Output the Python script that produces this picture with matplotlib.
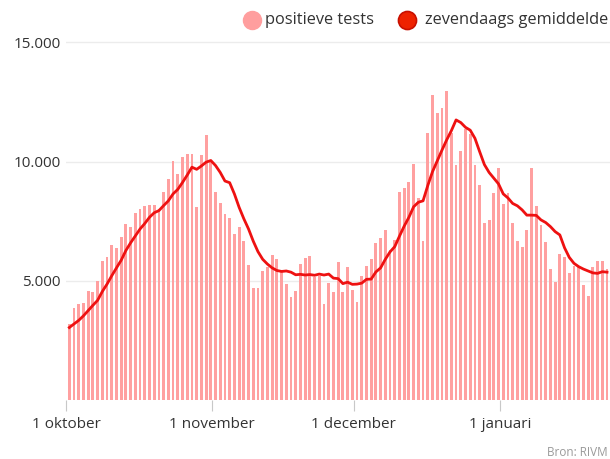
import numpy as np
import pandas as pd
import matplotlib
matplotlib.use("Agg")
import matplotlib.pyplot as plt
from matplotlib.lines import Line2D

plt.rcParams['font.family'] = ['Open Sans', 'DejaVu Sans']

start_date = pd.Timestamp('2020-10-01')

# daily positive tests (1 Oct 2020 onwards)
positieve_tests = [
    3200, 3860, 4030, 4090, 4580, 4550, 5010, 5820, 5990, 6510,
    6370, 6860, 7380, 7280, 7830, 8000, 8150, 8170, 8180, 8020,
    8750, 9280, 10010, 9500, 10190, 10330, 10330, 8090, 10290, 11130,
    10000, 8720, 8280, 7800, 7620, 6970, 7250, 6660, 5690, 4710,
    4690, 5410, 5570, 6100, 5920, 5370, 4890, 4340, 4600, 5710,
    5950, 6040, 5180, 5210, 4030, 4930, 4520, 5810, 4520, 5600,
    4620, 4120, 5200, 5610, 5920, 6580, 6800, 7140, 6300, 6700,
    8720, 8890, 9140, 9910, 8470, 6690, 11210, 12780, 12030, 12250,
    12970, 11190, 9850, 10430, 11380, 11170, 9870, 9030, 7430, 7560,
    8700, 9730, 8220, 8700, 7440, 6690, 6410, 7150, 9730, 8160,
    7350, 6650, 5500, 4970, 6130, 5990, 5330, 5640, 5620, 4830,
    4380, 5570, 5850, 5830, 5500,
]

# seven-day average line
zevendaags_gemiddelde = [
    3050, 3200, 3350, 3540, 3760, 3980, 4190, 4560, 4870, 5220,
    5550, 5870, 6280, 6600, 6890, 7180, 7410, 7670, 7860, 7950,
    8160, 8360, 8650, 8840, 9130, 9440, 9770, 9680, 9820, 9980,
    10050, 9840, 9550, 9190, 9120, 8650, 8090, 7610, 7180, 6670,
    6230, 5910, 5710, 5550, 5440, 5400, 5420, 5370, 5260, 5280,
    5250, 5270, 5240, 5290, 5250, 5290, 5120, 5100, 4890, 4950,
    4860, 4870, 4910, 5070, 5080, 5380, 5550, 5910, 6220, 6440,
    6880, 7300, 7670, 8110, 8300, 8360, 9000, 9580, 10030, 10480,
    10910, 11300, 11750, 11640, 11440, 11320, 10980, 10420, 9880, 9550,
    9310, 9070, 8650, 8480, 8250, 8150, 7980, 7760, 7760, 7750,
    7560, 7450, 7280, 7070, 6930, 6390, 5990, 5740, 5600, 5500,
    5420, 5340, 5320, 5390, 5370,
]

tick_dates = ['2020-10-01', '2020-11-01', '2020-12-01', '2021-01-01']
tick_labels = ['1 oktober', '1 november', '1 december', '1 januari']
y_ticks = [5000, 10000, 15000]

bar_color = '#ffa0a0'
line_color = '#ee1111'
text_color = '#333333'

days = np.arange(len(positieve_tests))
tick_pos = [(pd.Timestamp(d) - start_date).days for d in tick_dates]

W, H = 610, 459
fig = plt.figure(figsize=(W / 100, H / 100), dpi=100)
x_left, x_right = 66, 615.5
y_bottom, y_top = 400.3, 41.2
ax = fig.add_axes([x_left / W, (H - y_bottom) / H,
                   (x_right - x_left) / W, (y_bottom - y_top) / H])

ax.bar(days + 0.7, positieve_tests, width=0.6, color=bar_color,
       linewidth=0, zorder=2)
ax.plot(days + 0.7, zevendaags_gemiddelde, color=line_color, lw=2.0,
        solid_joinstyle='round', zorder=3)

ax.set_xlim(0, 116.5)
ax.set_ylim(0, 15050)

for s in ax.spines.values():
    s.set_visible(False)

ax.set_yticks(y_ticks)
ax.set_yticklabels([f"{v:,.0f}".replace(',', '.') for v in y_ticks],
                   fontsize=11, color=text_color)
ax.tick_params(axis='y', length=0, pad=4)
ax.yaxis.grid(True, color='#ececec', lw=1, zorder=0)
ax.set_axisbelow(True)

ax.set_xticks(tick_pos)
ax.set_xticklabels(tick_labels, fontsize=11, color=text_color)
ax.tick_params(axis='x', length=8, width=0.8, color='#c8c8c8', pad=4)

# legend
def px(x, y):
    return x / W, (H - y) / H

fig.add_artist(Line2D([px(252, 20)[0]], [px(252, 20)[1]], marker='o',
                      markersize=13, markerfacecolor='#ff9e9e',
                      markeredgecolor='#ff9e9e', transform=fig.transFigure))
fig.text(*px(265, 20), 'positieve tests', fontsize=11.8, color=text_color,
         ha='left', va='center')
fig.add_artist(Line2D([px(407, 20)[0]], [px(407, 20)[1]], marker='o',
                      markersize=13, markerfacecolor='#ee2200',
                      markeredgecolor='#c81000', markeredgewidth=1.2,
                      transform=fig.transFigure))
fig.text(*px(608, 20), 'zevendaags gemiddelde', fontsize=11.8,
         color=text_color, ha='right', va='center')

fig.text(*px(608, 452), 'Bron: RIVM', fontsize=8.5, color='#9a9a9a',
         ha='right', va='center')

fig.savefig('out.png', dpi=100)
